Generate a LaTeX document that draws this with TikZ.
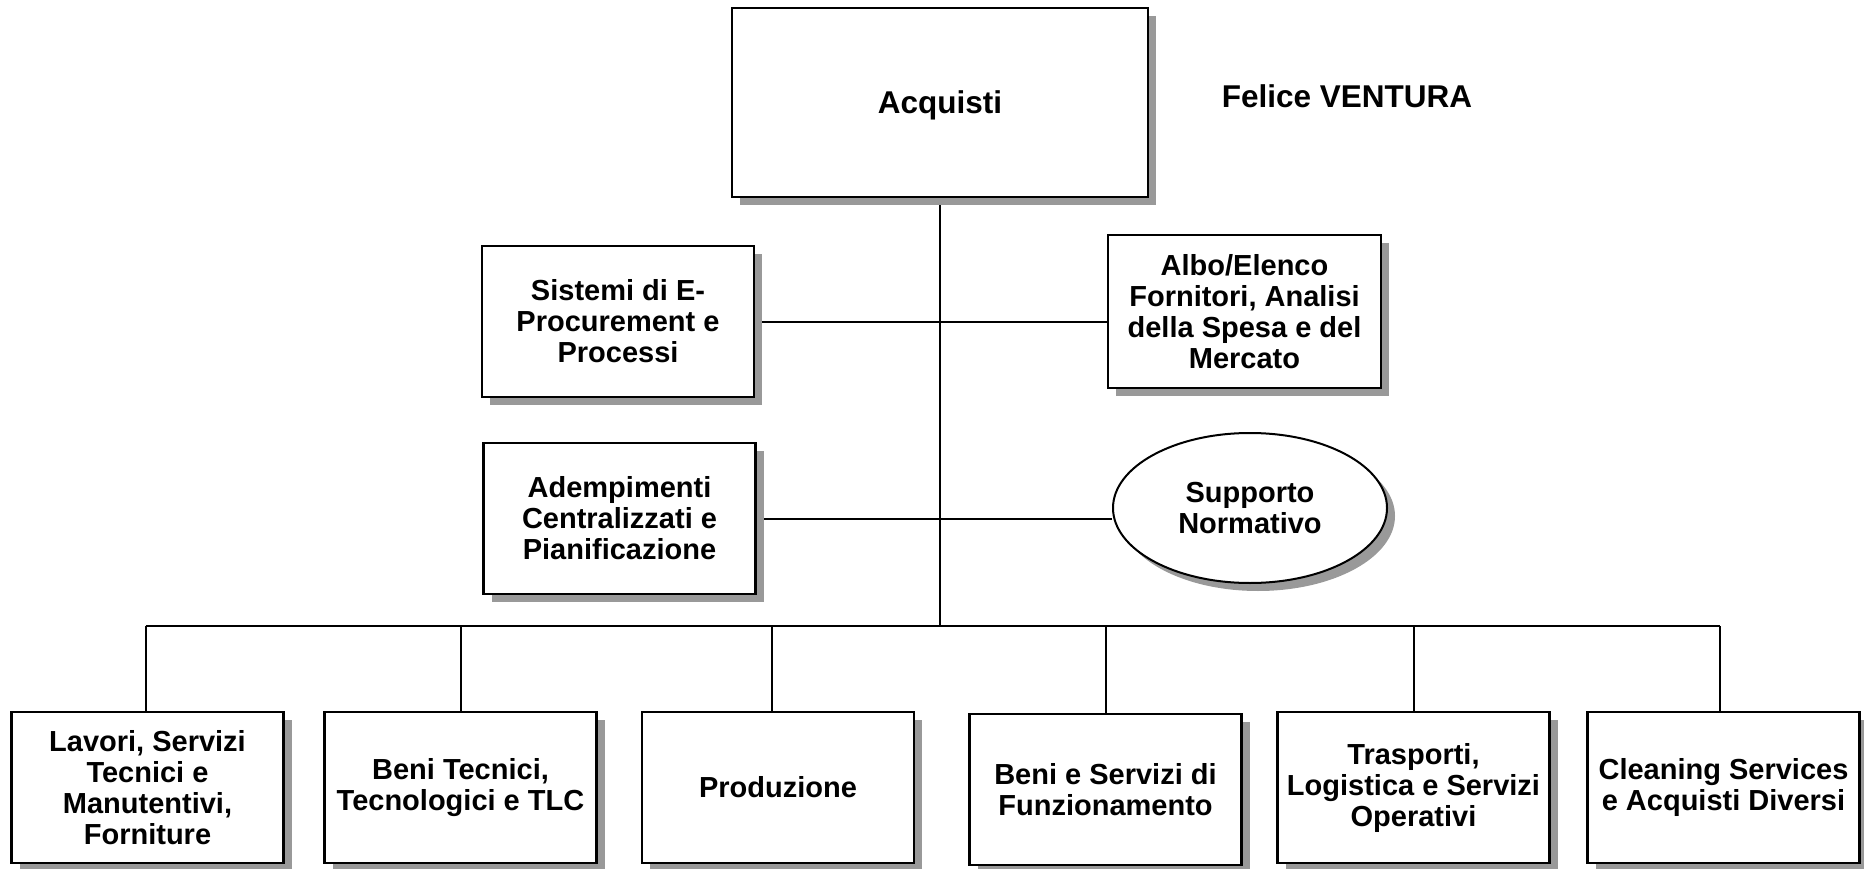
\documentclass[tikz,border=0pt]{standalone}
\usepackage{fontspec}
\setmainfont{Liberation Sans}
\usetikzlibrary{shapes.geometric,shadows,backgrounds}
\begin{document}
\begin{tikzpicture}[x=1pt,y=-1pt,
  shad/.style={drop shadow={shadow xshift=8pt, shadow yshift=-8pt, fill=black!40, opacity=1}},
  box/.style={draw, line width=2.5pt, fill=white, rectangle, align=center, inner sep=0pt,
    minimum width=272pt, minimum height=151pt, font=\bfseries\fontsize{29}{31}\selectfont, shad},
  oval/.style={draw, line width=2pt, fill=white, ellipse, align=center, inner sep=0pt,
    minimum width=274pt, minimum height=150pt, font=\bfseries\fontsize{29}{31}\selectfont, shad},
  title/.style={font=\bfseries\fontsize{31.5}{34}\selectfont, inner sep=0pt},
  conn/.style={line width=2pt}]
\useasboundingbox (0,0) rectangle (1864,869);

\node[box, title, text depth=0pt, minimum width=416pt, minimum height=189pt] (top) at (940,102.5) {Acquisti};
\node[title] (name) at (1347,96) {Felice VENTURA};

\node[box] (sis) at (618,321.5) {Sistemi di E-\\Procurement e\\Processi};
\node[box, minimum width=273pt, minimum height=153pt] (albo) at (1244.5,311.5) {Albo/Elenco\\Fornitori, Analisi\\della Spesa e del\\Mercato};
\node[box] (adem) at (619.5,518.5) {Adempimenti\\Centralizzati e\\Pianificazione};
\node[oval] (sup) at (1250,508) {Supporto\\Normativo};

\node[box] (b1) at (147.5,787.5) {Lavori, Servizi\\Tecnici e\\Manutentivi,\\Forniture};
\node[box] (b2) at (460.5,787.5) {Beni Tecnici,\\Tecnologici e TLC};
\node[box] (b3) at (778,787.5) {Produzione};
\node[box] (b4) at (1105.5,789.5) {Beni e Servizi di\\Funzionamento};
\node[box] (b5) at (1413.5,787.5) {Trasporti,\\Logistica e Servizi\\Operativi};
\node[box] (b6) at (1723.5,787.5) {Cleaning Services\\e Acquisti Diversi};

\coordinate (bus) at (940,626);

\begin{pgfonlayer}{background}
\draw[conn] (top.south) -- (top.south |- bus);
\draw[conn] (sis.east) -- (sis.east -| albo.west);
\draw[conn] (adem.east) -- (adem.east -| sup.west);
\draw[conn] ([xshift=-2pt]b1.north |- bus) -- ([xshift=-4pt]b6.north |- bus);
\draw[conn] ([xshift=-2pt]b1.north) -- ([xshift=-2pt]b1.north |- bus);
\draw[conn] (b2.north) -- (b2.north |- bus);
\draw[conn] ([xshift=-6pt]b3.north) -- ([xshift=-6pt]b3.north |- bus);
\draw[conn] (b4.north) -- (b4.north |- bus);
\draw[conn] (b5.north) -- (b5.north |- bus);
\draw[conn] ([xshift=-4pt]b6.north) -- ([xshift=-4pt]b6.north |- bus);
\end{pgfonlayer}
\end{tikzpicture}
\end{document}
